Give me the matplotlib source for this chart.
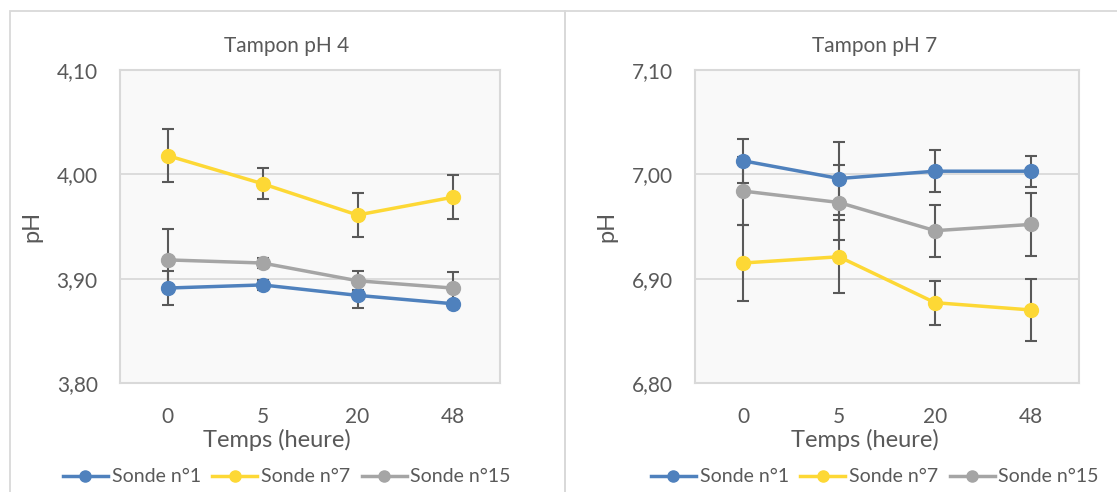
import matplotlib.pyplot as plt
from matplotlib.patches import Rectangle
import numpy as np

plt.rcParams['font.family'] = ['Lato', 'DejaVu Sans']

temps = ['0', '5', '20', '48']
sondes = ['Sonde n°1', 'Sonde n°7', 'Sonde n°15']
couleurs = ['#4f81bd', '#fdd835', '#a5a5a5']

# Tampon pH 4
ph4_s1 = [3.891, 3.894, 3.884, 3.876]
ph4_s1_err = [0.016, 0.005, 0.012, 0.003]
ph4_s7 = [4.018, 3.991, 3.961, 3.978]
ph4_s7_err = [0.025, 0.015, 0.021, 0.021]
ph4_s15 = [3.918, 3.915, 3.898, 3.891]
ph4_s15_err = [0.030, 0.005, 0.009, 0.015]

# Tampon pH 7
ph7_s1 = [7.013, 6.996, 7.003, 7.003]
ph7_s1_err = [0.021, 0.035, 0.020, 0.015]
ph7_s7 = [6.915, 6.921, 6.877, 6.870]
ph7_s7_err = [0.036, 0.035, 0.021, 0.030]
ph7_s15 = [6.984, 6.973, 6.946, 6.952]
ph7_s15_err = [0.033, 0.036, 0.025, 0.030]

W, H = 1117, 492
fig = plt.figure(figsize=(W / 100, H / 100), dpi=100)
texte = '#595959'

# cadres des deux graphiques
fig.add_artist(Rectangle((10 / W, -0.1), 555 / W, 1.1 - 11 / H, transform=fig.transFigure,
                         fill=False, ec='#d9d9d9', lw=1.3))
fig.add_artist(Rectangle((565 / W, -0.1), 700 / W, 1.1 - 11 / H, transform=fig.transFigure,
                         fill=False, ec='#d9d9d9', lw=1.3))


def graphique(x0, x1, cx, titre, yticks, series, erreurs):
    ax = fig.add_axes([x0 / W, (H - 383) / H, (x1 - x0) / W, 313 / H])
    ax.set_facecolor('#f9f9f9')
    x = np.arange(len(temps))
    for vals, err in zip(series, erreurs):
        ax.errorbar(x, vals, yerr=err, fmt='none', ecolor='#595959', elinewidth=1.5,
                    capsize=4.5, capthick=1.5, zorder=2)
    for vals, c, nom in zip(series, couleurs, sondes):
        ax.plot(x, vals, color=c, lw=2.5, marker='o', ms=10, label=nom, zorder=3)
    ax.set_xlim(-0.5, len(temps) - 0.5)
    ax.set_ylim(yticks[0], yticks[-1])
    ax.set_yticks(yticks)
    ax.set_yticklabels([('%.2f' % v).replace('.', ',') for v in yticks])
    ax.set_xticks(x)
    ax.set_xticklabels(temps)
    ax.tick_params(length=0, labelsize=15, labelcolor=texte)
    ax.tick_params(axis='y', pad=16)
    ax.tick_params(axis='x', pad=17)
    ax.grid(axis='y', color='#d9d9d9', lw=1.3)
    ax.set_axisbelow(True)
    for s in ax.spines.values():
        s.set_color('#d9d9d9')
        s.set_linewidth(1.5)
    fig.text(cx / W, 1 - 46 / H, titre, ha='center', va='center', fontsize=15, color=texte)
    fig.text((cx - 10) / W, 1 - 440 / H, 'Temps (heure)', ha='center', va='center',
             fontsize=17, color=texte)
    fig.text((x0 - 88) / W, 1 - 226 / H, 'pH', ha='center', va='center', rotation=90,
             fontsize=17, color=texte)
    fig.legend(*ax.get_legend_handles_labels(), loc='center', ncol=3, frameon=False,
               bbox_to_anchor=(cx / W, 1 - 477 / H), fontsize=14, labelcolor=texte,
               handlelength=2.3, handletextpad=0.2, columnspacing=0.6, markerscale=0.8)
    return ax


graphique(120, 500, 287, 'Tampon pH 4', [3.80, 3.90, 4.00, 4.10],
          [ph4_s1, ph4_s7, ph4_s15], [ph4_s1_err, ph4_s7_err, ph4_s15_err])
graphique(695, 1079, 875, 'Tampon pH 7', [6.80, 6.90, 7.00, 7.10],
          [ph7_s1, ph7_s7, ph7_s15], [ph7_s1_err, ph7_s7_err, ph7_s15_err])

fig.savefig('out.png', dpi=100)
